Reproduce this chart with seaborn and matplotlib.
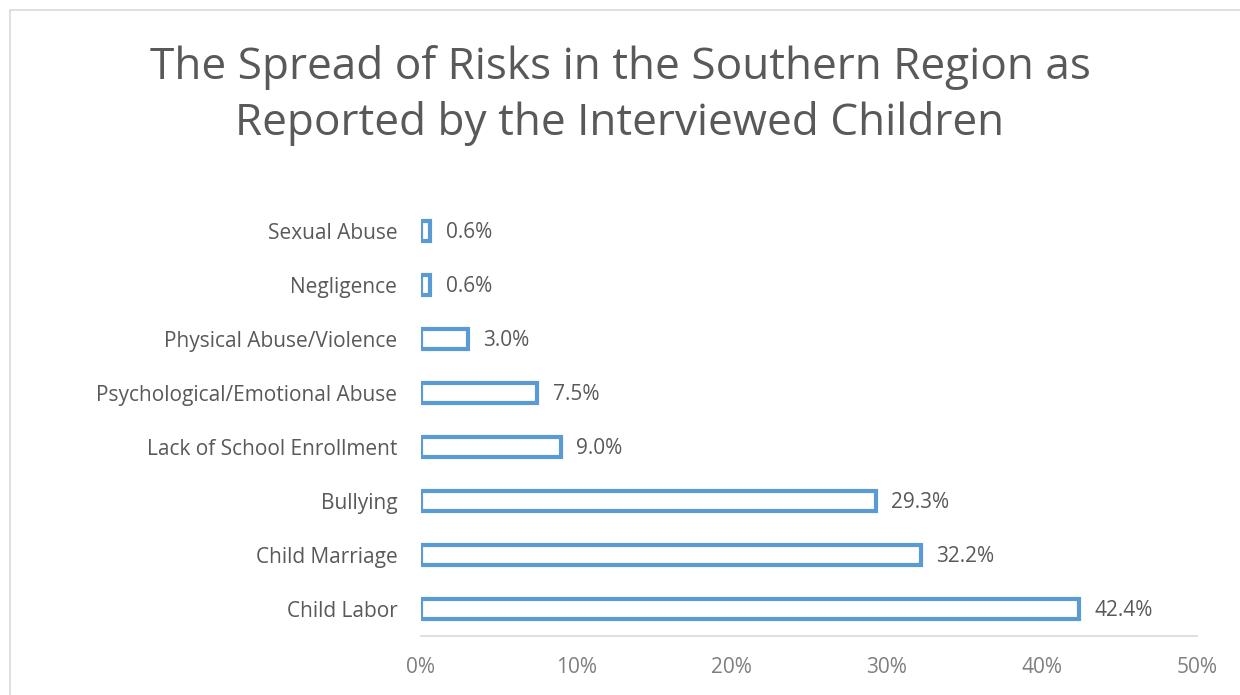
import pandas as pd
import matplotlib
matplotlib.use('Agg')
from matplotlib import pyplot as plt
from matplotlib.patches import Rectangle
from matplotlib.ticker import PercentFormatter
import seaborn as sns

sns.set_theme(style='white')
plt.rcParams['font.family'] = ['Open Sans', 'DejaVu Sans']

# Risks reported by the interviewed children [percent]
risks = ['Sexual Abuse', 'Negligence', 'Physical Abuse/Violence',
         'Psychological/Emotional Abuse', 'Lack of School Enrollment',
         'Bullying', 'Child Marriage', 'Child Labor']
shares = [0.6, 0.6, 3.0, 7.5, 9.0, 29.3, 32.2, 42.4]
xticks = [0, 10, 20, 30, 40, 50]

df = pd.DataFrame({'Risk': risks, 'Share': shares})

blue = '#5B9BD5'
grey = '#595959'

fig = plt.figure(figsize=(12.4, 6.95), dpi=100)
ax = fig.add_axes([0.3395, 0.0849, 0.6258, 0.6216])

sns.barplot(data=df, x='Share', y='Risk', orient='h', ax=ax,
            color='white', edgecolor=blue, linewidth=3.0, width=0.36,
            saturation=1)

for i, v in enumerate(shares):
    ax.text(v + 1.0, i + 0.02, '{:.1f}%'.format(v), va='center', ha='left',
            fontsize=15, color=grey)

ax.set_xlim(0, 50)
ax.set_xticks(xticks)
ax.xaxis.set_major_formatter(PercentFormatter(decimals=0))
ax.set_xlabel('')
ax.set_ylabel('')
ax.tick_params(axis='x', labelsize=15, labelcolor='#7F7F7F', length=0, pad=15)
ax.tick_params(axis='y', labelsize=15, labelcolor=grey, length=0, pad=17)
for s in ['top', 'right', 'left']:
    ax.spines[s].set_visible(False)
ax.spines['bottom'].set_color('#D9D9D9')
ax.spines['bottom'].set_linewidth(1.2)

fig.text(0.5, 0.863, 'The Spread of Risks in the Southern Region as\nReported by the Interviewed Children',
         ha='center', va='center', fontsize=31.8, color=grey, linespacing=1.33)

fig.patches.append(Rectangle((10 / 1240, -0.01), 1.0, 1 - 10 / 695 + 0.01,
                             transform=fig.transFigure, fill=False,
                             edgecolor='#D9D9D9', linewidth=1.2))

fig.savefig('out.png', dpi=100)
